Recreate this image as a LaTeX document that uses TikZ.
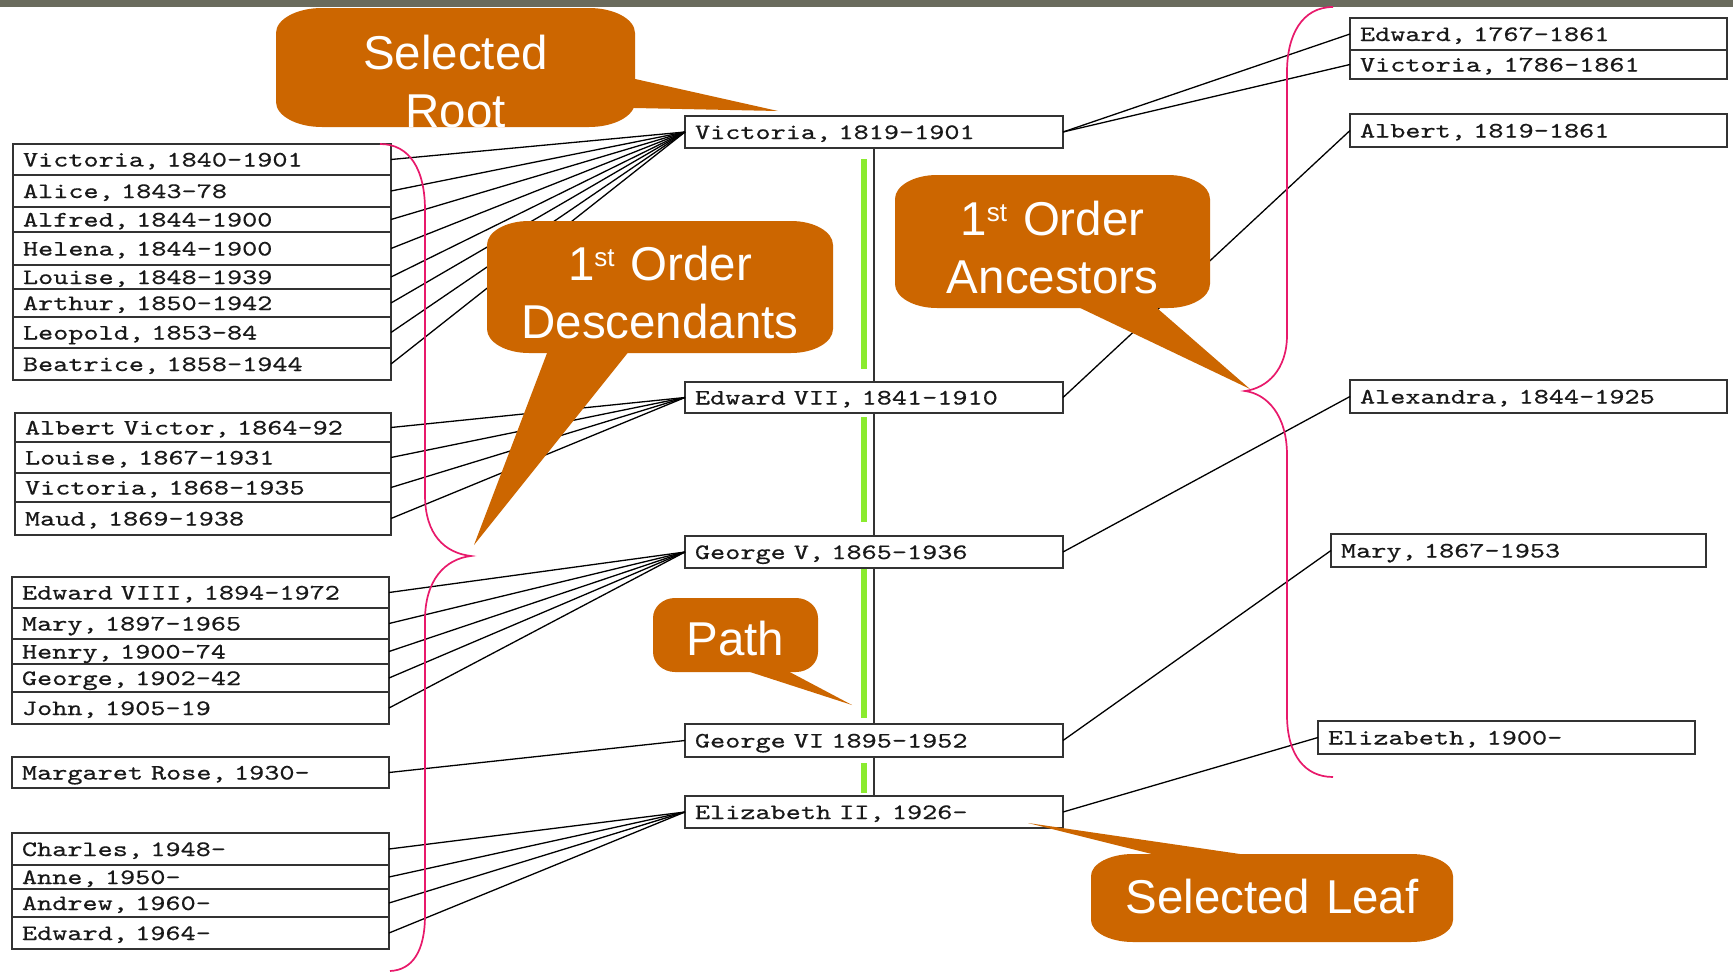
\documentclass[tikz,border=0pt]{standalone}
\usepackage{fontspec}
\newfontfamily\callfont{Liberation Sans}
\newfontfamily\boxfont{lmmono10-regular.otf}[FakeStretch=1.31,FakeBold=0.5]

\definecolor{boxline}{HTML}{333333}
\definecolor{pathgreen}{HTML}{8BEB2F}
\definecolor{bracepink}{HTML}{E8196B}
\definecolor{callorange}{HTML}{CC6600}
\definecolor{topbar}{HTML}{6A6B5D}

\tikzset{
  pbox/.style={draw=boxline, line width=1.5pt, fill=white, anchor=north west,
    outer sep=0pt, inner xsep=10pt, inner ysep=0pt, text height=14pt, text depth=0pt,
    align=left, font=\boxfont\fontsize{22}{24}\selectfont, text=black!90},
  conn/.style={draw=black, line width=1.3pt},
  trunk/.style={draw=boxline, line width=1.5pt},
  pathmark/.style={draw=pathgreen, line width=6pt},
  brace/.style={draw=bracepink, line width=1.7pt},
  callfill/.style={fill=callorange},
  calltext/.style={text=white, font=\callfont\fontsize{47.5}{58}\selectfont,
    inner sep=0pt, align=center, anchor=base},
}

% person box: name, x, y (top left), text width, height, label
\newcommand\famnode[6]{\node[pbox, text width=#4pt, minimum height=#5pt] (#1) at (#2,#3) {#6};}
% narrow space inside a name
\newcommand\nsp{\hspace{8pt}}
% rounded box with elliptic corners: x1, y1, x2, y2, rx, ry
\newcommand\bubble[6]{%
  \fill[callfill] ({#1+#5},#2) -- ({#3-#5},#2)
    .. controls ({#3-0.4477*#5},#2) and (#3,{#2+0.4477*#6}) .. (#3,{#2+#6})
    -- (#3,{#4-#6})
    .. controls (#3,{#4-0.4477*#6}) and ({#3-0.4477*#5},#4) .. ({#3-#5},#4)
    -- ({#1+#5},#4)
    .. controls ({#1+0.4477*#5},#4) and (#1,{#4-0.4477*#6}) .. (#1,{#4-#6})
    -- (#1,{#2+#6})
    .. controls (#1,{#2+0.4477*#6}) and ({#1+0.4477*#5},#2) .. ({#1+#5},#2)
    -- cycle;}
\newcommand\st{\raisebox{14pt}{\fontsize{26}{26}\selectfont st}}

\begin{document}
\begin{tikzpicture}[x=1pt, y=-1pt]
\useasboundingbox (0,0) rectangle (1733,972);
\fill[white] (0,0) rectangle (1733,972);
\fill[topbar] (0,0) rectangle (1733,7);

% path markers beside the trunk
\draw[pathmark] (864,159) -- (864,369);
\draw[pathmark] (864,417) -- (864,522);
\draw[pathmark] (864,568) -- (864,718);
\draw[pathmark] (864,763) -- (864,793);

% selected path
\famnode{cVic}{685}{116}{358}{32}{Victoria, 1819-1901}
\famnode{cEdS}{685}{382}{358}{31}{Edward\nsp VII, 1841-1910}
\famnode{cGeoF}{685}{536}{358}{32}{George\nsp V, 1865-1936}
\famnode{cGeoS}{685}{724}{358}{33}{George\nsp VI 1895-1952}
\famnode{cEliz}{685}{796}{358}{32}{Elizabeth\nsp II, 1926-}

% descendants
\famnode{dA1}{13}{144}{358}{31}{Victoria, 1840-1901}
\famnode{dA2}{13}{175}{358}{32}{Alice, 1843-78}
\famnode{dA3}{13}{207}{358}{25}{Alfred, 1844-1900}
\famnode{dA4}{13}{232}{358}{33}{Helena, 1844-1900}
\famnode{dA5}{13}{265}{358}{24}{Louise, 1848-1939}
\famnode{dA6}{13}{289}{358}{28}{Arthur, 1850-1942}
\famnode{dA7}{13}{317}{358}{31}{Leopold, 1853-84}
\famnode{dA8}{13}{348}{358}{32}{Beatrice, 1858-1944}

\famnode{dB1}{15}{413}{356}{29}{Albert\nsp Victor, 1864-92}
\famnode{dB2}{15}{442}{356}{31}{Louise, 1867-1931}
\famnode{dB3}{15}{473}{356}{29}{Victoria, 1868-1935}
\famnode{dB4}{15}{502}{356}{33}{Maud, 1869-1938}

\famnode{dC1}{12}{577}{357}{31}{Edward\nsp VIII, 1894-1972}
\famnode{dC2}{12}{608}{357}{31}{Mary, 1897-1965}
\famnode{dC3}{12}{639}{357}{25}{Henry, 1900-74}
\famnode{dC4}{12}{664}{357}{28}{George, 1902-42}
\famnode{dC5}{12}{692}{357}{32}{John, 1905-19}

\famnode{dD1}{12}{757}{357}{31}{Margaret\nsp Rose, 1930-}

\famnode{dE1}{12}{833}{357}{32}{Charles, 1948-}
\famnode{dE2}{12}{865}{357}{24}{Anne, 1950-}
\famnode{dE3}{12}{889}{357}{28}{Andrew, 1960-}
\famnode{dE4}{12}{917}{357}{32}{Edward, 1964-}

% ancestors
\famnode{aEdw}{1350}{18}{357}{32}{Edward, 1767-1861}
\famnode{aVic}{1350}{50}{357}{29}{Victoria, 1786-1861}
\famnode{aAlb}{1350}{114}{357}{33}{Albert, 1819-1861}
\famnode{aAlex}{1350}{380}{357}{33}{Alexandra, 1844-1925}
\famnode{aMary}{1331}{534}{355}{33}{Mary, 1867-1953}
\famnode{aEliz}{1318}{721}{357}{33}{Elizabeth, 1900-}

% trunk and connectors
\draw[trunk] (cVic.south) -- (cEdS.north);
\draw[trunk] (cEdS.south) -- (cGeoF.north);
\draw[trunk] (cGeoF.south) -- (cGeoS.north);
\draw[trunk] (cGeoS.south) -- (cEliz.north);
\foreach \n in {dA1,dA2,dA3,dA4,dA5,dA6,dA7,dA8} \draw[conn] (\n.east) -- (cVic.west);
\foreach \n in {dB1,dB2,dB3,dB4} \draw[conn] (\n.east) -- (cEdS.west);
\foreach \n in {dC1,dC2,dC3,dC4,dC5} \draw[conn] (\n.east) -- (cGeoF.west);
\draw[conn] (dD1.east) -- (cGeoS.west);
\foreach \n in {dE1,dE2,dE3,dE4} \draw[conn] (\n.east) -- (cEliz.west);
\draw[conn] (cVic.east) -- (aEdw.west);
\draw[conn] (cVic.east) -- (aVic.west);
\draw[conn] (cEdS.east) -- (aAlb.west);
\draw[conn] (cGeoF.east) -- (aAlex.west);
\draw[conn] (cGeoS.east) -- (aMary.west);
\draw[conn] (cEliz.east) -- (aEliz.west);

% braces
\draw[brace] (380,144) .. controls (410,144) and (425,170) .. (425,210)
  -- (425,495) .. controls (425,535) and (445,553) .. (471,556)
  .. controls (445,559) and (425,580) .. (425,620)
  -- (425,915) .. controls (425,952) and (412,970) .. (390,971);
\draw[brace] (1333,7) .. controls (1302,7) and (1287,35) .. (1287,72)
  -- (1287,335) .. controls (1287,370) and (1267,388) .. (1245,391)
  .. controls (1267,394) and (1287,415) .. (1287,455)
  -- (1287,715) .. controls (1287,755) and (1305,777) .. (1333,777);

% callouts
\bubble{276}{8}{635}{127}{46}{25}
\fill[callfill] (620,75.6) -- (778,111) -- (620,107.7) -- cycle;
\node[calltext, text width=359pt] (tRoot) at (455.5,69) {Selected\\Root};

\bubble{487}{221}{833}{353}{42}{24}
\fill[callfill] (552,340) -- (474,545) -- (638,340) -- cycle;
\node[calltext, text width=346pt] (tDesc) at (660,280) {1\st{} Order\\Descendants};

\bubble{895}{175}{1210}{308}{42}{24}
\fill[callfill] (1053,295) -- (1250,389) -- (1142,295) -- cycle;
\node[calltext, text width=315pt] (tAnc) at (1052.5,235) {1\st{} Order\\Ancestors};

\bubble{653}{598}{818}{672}{22}{20}
\fill[callfill] (713,660) -- (852,705) -- (767,660) -- cycle;
\node[calltext, text width=165pt] (tPath) at (735.5,655) {Path};

\bubble{1091}{854}{1453}{942}{42}{22}
\fill[callfill] (1200,866) -- (1028,823) -- (1322,866) -- cycle;
\node[calltext, text width=362pt] (tLeaf) at (1272,913) {Selected Leaf};
\end{tikzpicture}
\end{document}
